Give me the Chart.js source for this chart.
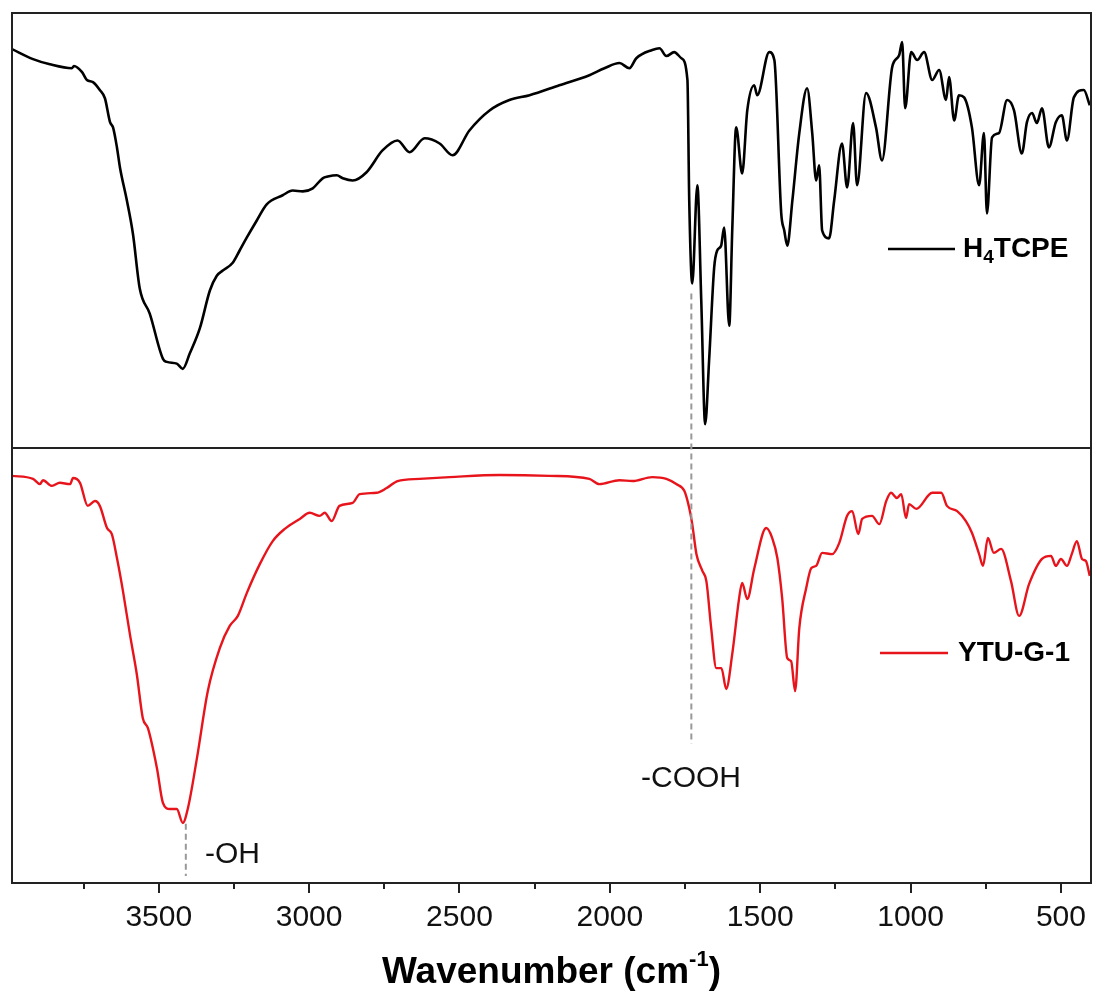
<!DOCTYPE html>
<html>
<head>
<meta charset="utf-8">
<script src="https://cdn.jsdelivr.net/npm/chart.js@4"></script>
<style>
  body { margin: 0; background: #fff; }
  #wrap { width: 1096px; height: 997px; position: relative; }
</style>
</head>
<body>
<div id="wrap"><canvas id="myChart"></canvas></div>
<script>
// wavenumber (cm-1) and transmittance (a.u., 0-100 inside each panel)
var topWn = [3988, 3918, 3862, 3789, 3782, 3755, 3739, 3719, 3696, 3679, 3662, 3652, 3639, 3629, 3606, 3586, 3563, 3530, 3486, 3473,
  3440, 3420, 3397, 3363, 3330, 3307, 3287, 3254, 3231, 3207, 3174, 3141, 3088, 3055, 3021, 2988, 2955, 2938, 2908, 2888,
  2855, 2809, 2756, 2706, 2666, 2616, 2566, 2523, 2467, 2400, 2334, 2267, 2168, 2068, 2018, 1968, 1935, 1912, 1859, 1835,
  1812, 1786, 1762, 1742, 1736, 1726, 1709, 1696, 1683, 1670, 1653, 1643, 1630, 1620, 1603, 1593, 1580, 1560, 1543, 1520,
  1510, 1470, 1453, 1430, 1420, 1410, 1393, 1370, 1344, 1327, 1314, 1304, 1294, 1271, 1254, 1228, 1211, 1191, 1178, 1148,
  1115, 1095, 1061, 1038, 1028, 1018, 998, 978, 955, 928, 905, 882, 872, 855, 839, 822, 796, 772, 756, 746,
  729, 706, 679, 656, 630, 613, 596, 580, 563, 540, 517, 497, 480, 457, 424, 404];
var topVal = [91.7, 89.4, 88.2, 87.3, 87.8, 86.4, 84.6, 84.1, 82.3, 80.4, 74.9, 73.7, 69.1, 64.5, 56.9, 49.3, 36.6, 30.9, 20.5, 19.8,
  19.4, 18.2, 21.7, 27.6, 36.2, 39.6, 40.8, 42.6, 45.4, 48.4, 52.3, 56.0, 58.1, 59.2, 59.0, 59.7, 62.0, 62.4, 62.7, 62.0,
  61.5, 63.4, 68.4, 70.7, 68.0, 71.2, 70.0, 67.3, 73.0, 77.6, 80.0, 81.1, 83.4, 85.7, 87.3, 88.5, 87.3, 89.6, 91.5, 91.9,
  90.1, 91.0, 89.6, 84.6, 56.9, 37.8, 60.4, 33.9, 5.5, 20.0, 41.5, 45.4, 46.5, 50.7, 28.1, 50.0, 73.7, 63.1, 77.6, 83.4,
  81.1, 91.0, 89.2, 53.9, 50.0, 46.5, 56.9, 72.4, 82.7, 72.4, 61.5, 65.0, 50.0, 48.2, 56.9, 70.0, 59.9, 74.7, 60.4, 81.6,
  73.7, 66.1, 87.6, 90.3, 93.3, 78.1, 91.0, 89.2, 91.0, 84.6, 86.9, 80.0, 85.3, 75.3, 81.1, 80.6, 73.7, 60.4, 72.4, 53.9,
  71.4, 72.4, 80.0, 77.6, 67.7, 74.9, 77.0, 74.7, 78.1, 69.1, 74.9, 76.5, 70.7, 80.6, 82.3, 78.8];

var botWn = [3988, 3918, 3895, 3885, 3855, 3829, 3795, 3785, 3762, 3736, 3712, 3696, 3672, 3656, 3639, 3619, 3596, 3573, 3553, 3536,
  3506, 3486, 3463, 3440, 3420, 3403, 3373, 3337, 3297, 3264, 3237, 3207, 3164, 3121, 3081, 3031, 2998, 2965, 2948, 2925,
  2899, 2855, 2832, 2776, 2742, 2706, 2633, 2533, 2367, 2201, 2068, 2035, 1968, 1925, 1859, 1812, 1779, 1752, 1736, 1726,
  1712, 1692, 1679, 1663, 1646, 1629, 1613, 1593, 1570, 1560, 1543, 1520, 1480, 1460, 1443, 1427, 1410, 1397, 1384, 1370,
  1347, 1330, 1314, 1294, 1261, 1237, 1211, 1194, 1174, 1161, 1128, 1104, 1081, 1065, 1045, 1031, 1015, 1005, 981, 928,
  898, 879, 845, 816, 796, 772, 759, 743, 723, 699, 666, 639, 606, 563, 533, 517, 500, 480, 464, 447,
  430, 417, 404];
var botVal = [93.6, 92.9, 91.7, 92.6, 91.3, 92.0, 91.7, 93.1, 92.0, 86.7, 87.8, 86.7, 81.6, 80.2, 74.7, 67.1, 57.2, 48.0, 37.9, 35.6,
  26.4, 18.4, 17.0, 17.0, 13.8, 17.2, 28.7, 44.1, 54.0, 59.1, 61.4, 66.7, 73.3, 78.6, 81.4, 83.7, 85.1, 84.4, 85.1, 83.2,
  86.7, 87.4, 89.4, 89.7, 90.8, 92.4, 92.9, 93.3, 93.8, 93.6, 92.9, 91.7, 92.6, 92.4, 93.3, 92.9, 91.7, 90.1, 86.2, 82.5,
  75.6, 71.7, 69.4, 58.6, 49.4, 49.4, 44.6, 52.6, 65.5, 69.0, 65.3, 72.2, 81.6, 79.3, 74.7, 65.5, 51.7, 51.0, 44.1, 58.6,
  67.8, 72.4, 72.9, 75.9, 75.6, 78.2, 84.4, 85.5, 80.2, 83.7, 84.4, 82.5, 87.8, 89.7, 88.5, 89.4, 83.9, 87.1, 86.0, 89.7,
  89.7, 86.7, 85.5, 83.2, 80.5, 75.6, 72.9, 79.3, 75.9, 76.8, 69.4, 61.4, 68.7, 74.5, 75.2, 72.9, 74.5, 72.9, 75.6, 78.6,
  74.5, 74.0, 70.6];

var majorTicks = [3500, 3000, 2500, 2000, 1500, 1000, 500];
var minorTicks = [3750, 3250, 2750, 2250, 1750, 1250, 750];

function toPoints(xs, ys) {
  return xs.map(function(x, i) { return { x: x, y: ys[i] }; });
}

var FONT = '"Liberation Sans", Arial, sans-serif';

var extras = {
  id: 'extras',
  afterDraw: function(chart) {
    var ctx = chart.ctx;
    var a = chart.chartArea;
    var x = chart.scales.x, yT = chart.scales.yTop, yB = chart.scales.yBottom;
    ctx.save();

    // frame and panel divider
    ctx.strokeStyle = '#222';
    ctx.lineWidth = 2;
    ctx.strokeRect(a.left, a.top, a.right - a.left, a.bottom - a.top);
    ctx.beginPath();
    ctx.moveTo(a.left, yB.top);
    ctx.lineTo(a.right, yB.top);
    ctx.stroke();

    // ticks
    ctx.beginPath();
    majorTicks.forEach(function(v) {
      var px = Math.round(x.getPixelForValue(v));
      ctx.moveTo(px, a.bottom);
      ctx.lineTo(px, a.bottom + 10);
    });
    minorTicks.forEach(function(v) {
      var px = Math.round(x.getPixelForValue(v));
      ctx.moveTo(px, a.bottom);
      ctx.lineTo(px, a.bottom + 6);
    });
    ctx.stroke();

    // dashed marker lines
    ctx.strokeStyle = '#999';
    ctx.lineWidth = 2;
    ctx.setLineDash([6, 4]);
    ctx.beginPath();
    var px = x.getPixelForValue(3410);
    ctx.moveTo(px, yB.getPixelForValue(13.6));
    ctx.lineTo(px, yB.getPixelForValue(1.6));
    px = x.getPixelForValue(1729);
    ctx.moveTo(px, yT.getPixelForValue(35.5));
    ctx.lineTo(px, yB.getPixelForValue(32.0));
    ctx.stroke();
    ctx.setLineDash([]);

    // annotations
    ctx.fillStyle = '#111';
    ctx.font = '30px ' + FONT;
    ctx.textBaseline = 'middle';
    ctx.textAlign = 'left';
    ctx.fillText('-OH', 205, 855);
    ctx.textAlign = 'center';
    ctx.fillText('-COOH', 691, 779);

    // legends
    ctx.lineWidth = 2.5;
    ctx.strokeStyle = '#000';
    ctx.beginPath(); ctx.moveTo(888, 249); ctx.lineTo(955, 249); ctx.stroke();
    ctx.strokeStyle = '#e8141c';
    ctx.beginPath(); ctx.moveTo(880, 653); ctx.lineTo(948, 653); ctx.stroke();

    ctx.textAlign = 'left';
    ctx.fillStyle = '#000';
    ctx.font = 'bold 28px ' + FONT;
    ctx.fillText('H', 963, 249);
    var w = ctx.measureText('H').width;
    ctx.font = 'bold 19px ' + FONT;
    ctx.fillText('4', 963 + w, 258);
    var w2 = ctx.measureText('4').width;
    ctx.font = 'bold 28px ' + FONT;
    ctx.fillText('TCPE', 963 + w + w2, 249);
    ctx.fillText('YTU-G-1', 958, 653);

    // axis title with superscript
    var t1 = 'Wavenumber (cm', t2 = '-1', t3 = ')';
    ctx.font = 'bold 37px ' + FONT;
    var w1 = ctx.measureText(t1).width, w3 = ctx.measureText(t3).width;
    ctx.font = 'bold 22px ' + FONT;
    var ws = ctx.measureText(t2).width;
    var cx = (a.left + a.right) / 2;
    var sx = cx - (w1 + ws + w3) / 2;
    ctx.textBaseline = 'alphabetic';
    ctx.font = 'bold 37px ' + FONT;
    ctx.fillText(t1, sx, 983);
    ctx.font = 'bold 22px ' + FONT;
    ctx.fillText(t2, sx + w1, 966);
    ctx.font = 'bold 37px ' + FONT;
    ctx.fillText(t3, sx + w1 + ws, 983);
    ctx.restore();
  }
};

var ctx = document.getElementById('myChart').getContext('2d');
var myChart = new Chart(ctx, {
  type: 'line',
  data: {
    datasets: [{
      label: 'H4TCPE',
      data: toPoints(topWn, topVal),
      yAxisID: 'yTop',
      borderColor: '#000',
      borderWidth: 2.6,
      pointRadius: 0,
      cubicInterpolationMode: 'monotone'
    }, {
      label: 'YTU-G-1',
      data: toPoints(botWn, botVal),
      yAxisID: 'yBottom',
      borderColor: '#e8141c',
      borderWidth: 2.4,
      pointRadius: 0,
      cubicInterpolationMode: 'monotone'
    }]
  },
  options: {
    responsive: true,
    maintainAspectRatio: false,
    animation: false,
    layout: { padding: { left: 12, right: 5, top: 13, bottom: 54 } },
    plugins: { legend: { display: false }, tooltip: { enabled: false } },
    scales: {
      x: {
        type: 'linear',
        reverse: true,
        min: 400,
        max: 3988,
        afterBuildTicks: function(s) { s.ticks = majorTicks.map(function(v) { return { value: v }; }); },
        grid: { drawOnChartArea: false, drawTicks: true, tickLength: 10, color: 'rgba(0,0,0,0)' },
        border: { display: false },
        ticks: {
          color: '#111', font: { family: FONT, size: 30 }, padding: 7, maxRotation: 0, autoSkip: false,
          callback: function(v) { return String(v); }
        }
      },
      yTop: {
        type: 'linear', position: 'right', stack: 'panels', stackWeight: 1,
        min: 0, max: 100, display: false
      },
      yBottom: {
        type: 'linear', position: 'right', stack: 'panels', stackWeight: 1,
        min: 0, max: 100, display: false
      }
    }
  },
  plugins: [extras]
});
</script>
</body>
</html>
